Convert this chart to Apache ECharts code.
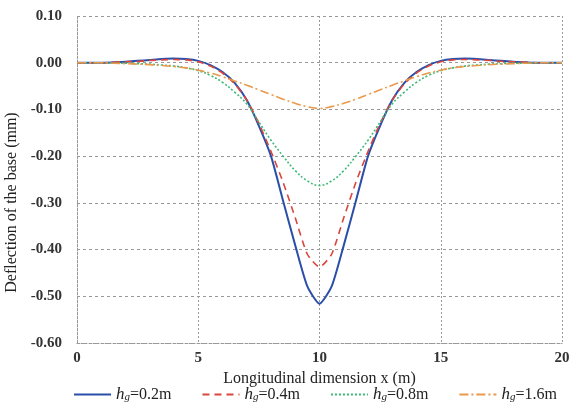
<!DOCTYPE html>
<html><head><meta charset="utf-8">
<script src="https://cdn.jsdelivr.net/npm/echarts@6/dist/echarts.min.js"></script>
<style>html,body{margin:0;padding:0;background:#fff}#c{width:569px;height:405px}</style>
</head><body><div id="c"></div>
<script>
// x positions (m), left half; right half mirrors about x = 10
var xHalf = [0,0.5,1,1.5,2,2.5,3,3.5,4,4.5,5,5.5,6,6.5,7,7.5,8,8.5,9,9.5,10];
var labels = ['0.2m','0.4m','0.8m','1.6m'];
var hg02 = [0,0,0,0.001,0.002,0.004,0.006,0.008,0.009,0.008,0.004,-0.005,-0.02,-0.043,-0.08,-0.135,-0.2,-0.296,-0.391,-0.479,-0.516];
var hg04 = [0,0,0,0.001,0.002,0.003,0.005,0.006,0.007,0.006,0.002,-0.007,-0.022,-0.045,-0.08,-0.13,-0.19,-0.256,-0.332,-0.41,-0.4375];
var hg08 = [0,0,0,-0.001,-0.001,-0.002,-0.003,-0.005,-0.007,-0.011,-0.017,-0.027,-0.042,-0.063,-0.088,-0.127,-0.166,-0.2,-0.231,-0.253,-0.263];
var hg16 = [0,0,0,-0.001,-0.002,-0.003,-0.004,-0.006,-0.008,-0.011,-0.016,-0.022,-0.03,-0.039,-0.048,-0.058,-0.068,-0.078,-0.087,-0.094,-0.098];
var colors = ['#2a4fa8','#d8463c','#3cb878','#ea9a4a'];
var types = ['solid',[7,5],[2,2],[9,3,2,3]];

function full(vals){
  var out=[];
  for(var i=0;i<xHalf.length;i++) out.push([xHalf[i], vals[i]]);
  for(var j=xHalf.length-2;j>=0;j--) out.push([20-xHalf[j], vals[j]]);
  return out;
}
var all=[hg02,hg04,hg08,hg16];
var smooths=[0.2,0.2,0.4,0.4];
var series = all.map(function(v,k){
  return {name:'hg='+labels[k], type:'line', data:full(v), symbol:'none', smooth:smooths[k],
    lineStyle:{color:colors[k], width:k===0?2:1.6, type:types[k]}, itemStyle:{color:colors[k]}};
});
var font = 'Liberation Serif';
var chart = echarts.init(document.getElementById('c'));
chart.setOption({
  animation:false,
  color:colors,
  grid:{left:77, right:7, top:16, bottom:62, outerBoundsMode:'none', containLabel:false},
  legend:{top:386, left:68, padding:[0,5], itemWidth:37, itemHeight:10, itemGap:30,
    itemStyle:{color:'rgba(0,0,0,0)', borderWidth:0},
    data:series.map(function(s){return s.name;}),
    formatter:function(n){return '{i|h}{s|g}{n|'+n.slice(2)+'}';},
    textStyle:{fontFamily:font, fontSize:16, color:'#222',
      rich:{i:{fontFamily:font,fontStyle:'italic',fontSize:17,color:'#222'},
            s:{fontFamily:font,fontStyle:'italic',fontSize:11,color:'#222',verticalAlign:'bottom',padding:[5,0,0,0]},
            n:{fontFamily:font,fontSize:16,color:'#222'}}}},
  xAxis:{type:'value', min:0, max:20, interval:5,
    name:'Longitudinal dimension x (m)', nameLocation:'middle', nameGap:24,
    nameTextStyle:{fontFamily:font, fontSize:16, color:'#222'},
    axisLine:{onZero:false, lineStyle:{color:'#999', type:[2,2]}}, axisTick:{show:false},
    axisLabel:{fontFamily:font, fontSize:15, fontWeight:'bold', color:'#333', margin:8},
    splitLine:{show:true, lineStyle:{color:'#999', type:[2,2]}}},
  yAxis:{type:'value', min:-0.6, max:0.1, interval:0.1,
    name:'Deflection of the base (mm)', nameLocation:'middle', nameGap:54,
    nameTextStyle:{fontFamily:font, fontSize:16, color:'#222', padding:[0,46,0,0]},
    axisLine:{show:true, lineStyle:{color:'#999', type:[2,2]}}, axisTick:{show:false},
    axisLabel:{fontFamily:font, fontSize:15, fontWeight:'bold', color:'#333', margin:15,
      formatter:function(v){return (Math.abs(v)<1e-9?0:v).toFixed(2);}},
    splitLine:{show:true, lineStyle:{color:'#999', type:[3,3]}}},
  series:series
});
</script></body></html>
